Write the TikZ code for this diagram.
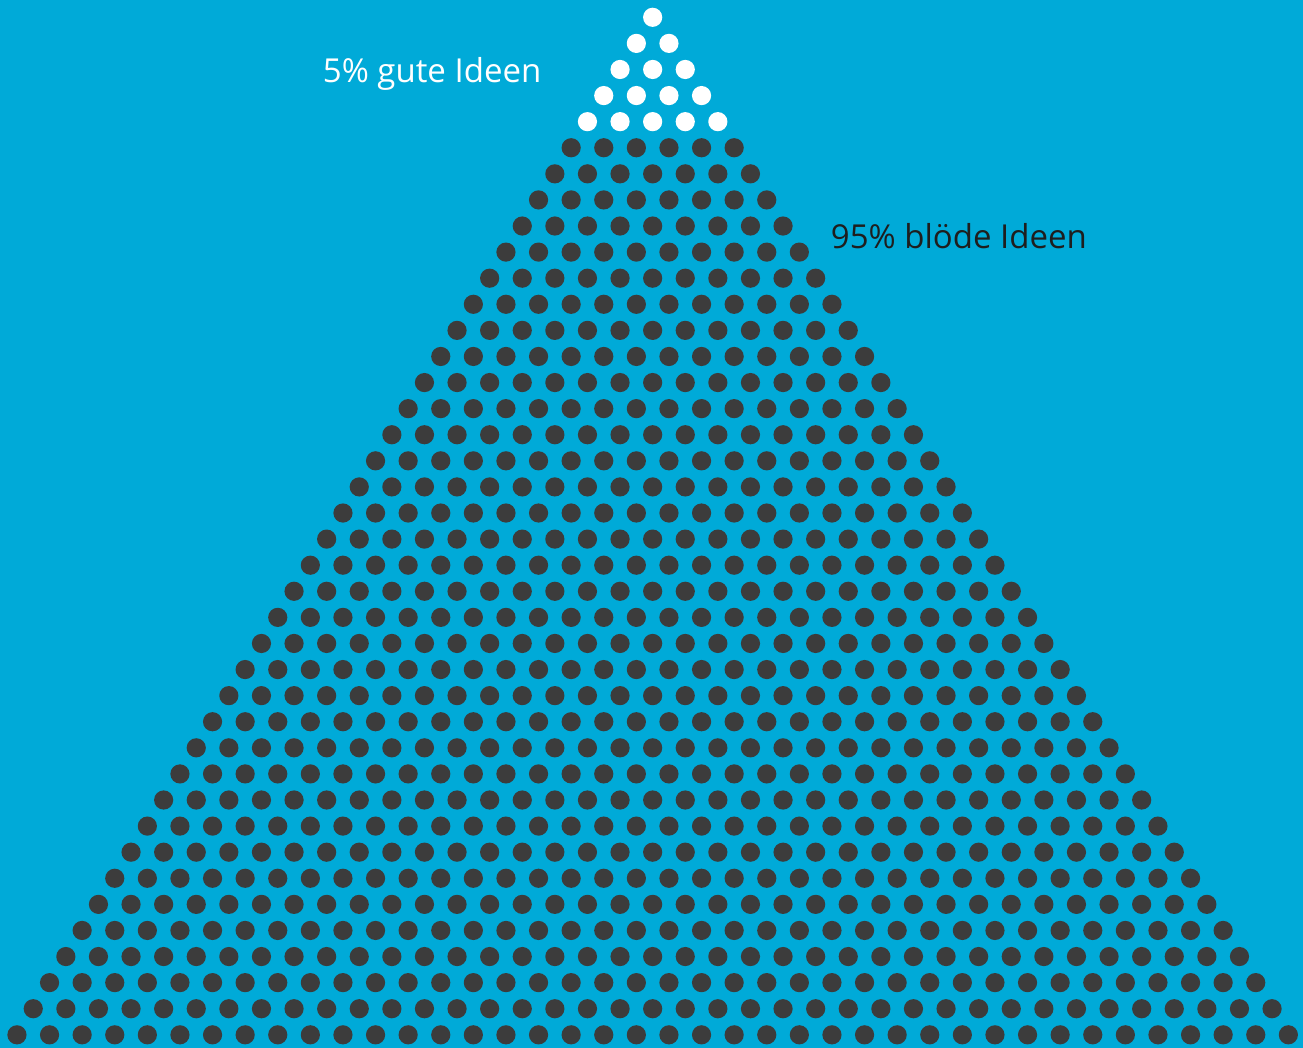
\documentclass[tikz,border=0pt]{standalone}
\usepackage{fontspec}
\setmainfont{Open Sans}
\definecolor{bg}{HTML}{00AAD8}
\definecolor{dotc}{HTML}{3C3C3C}
\definecolor{txt}{HTML}{1E1E1E}
\begin{document}
\begin{tikzpicture}[x=1pt,y=-1pt,
  label/.style={anchor=base west, inner sep=0pt, font=\fontsize{33}{33}\selectfont}]
\fill[bg] (0,0) rectangle (1303,1048);
\useasboundingbox (0,0) rectangle (1303,1048);
\foreach \r in {0,...,39}{
  \ifnum\r<5 \def\dc{white}\else\def\dc{dotc}\fi
  \foreach \k in {0,...,\r}{
    \fill[\dc] ({652.65+(\k-\r/2)*32.6},{17.3+\r*26.09}) circle (9.6);
  }
}
\node[label, text=white] (good) at (322.7,82.7) {5\% gute Ideen};
\node[label, text=txt] (bad) at (830.7,249) {95\% blöde Ideen};
\end{tikzpicture}
\end{document}
